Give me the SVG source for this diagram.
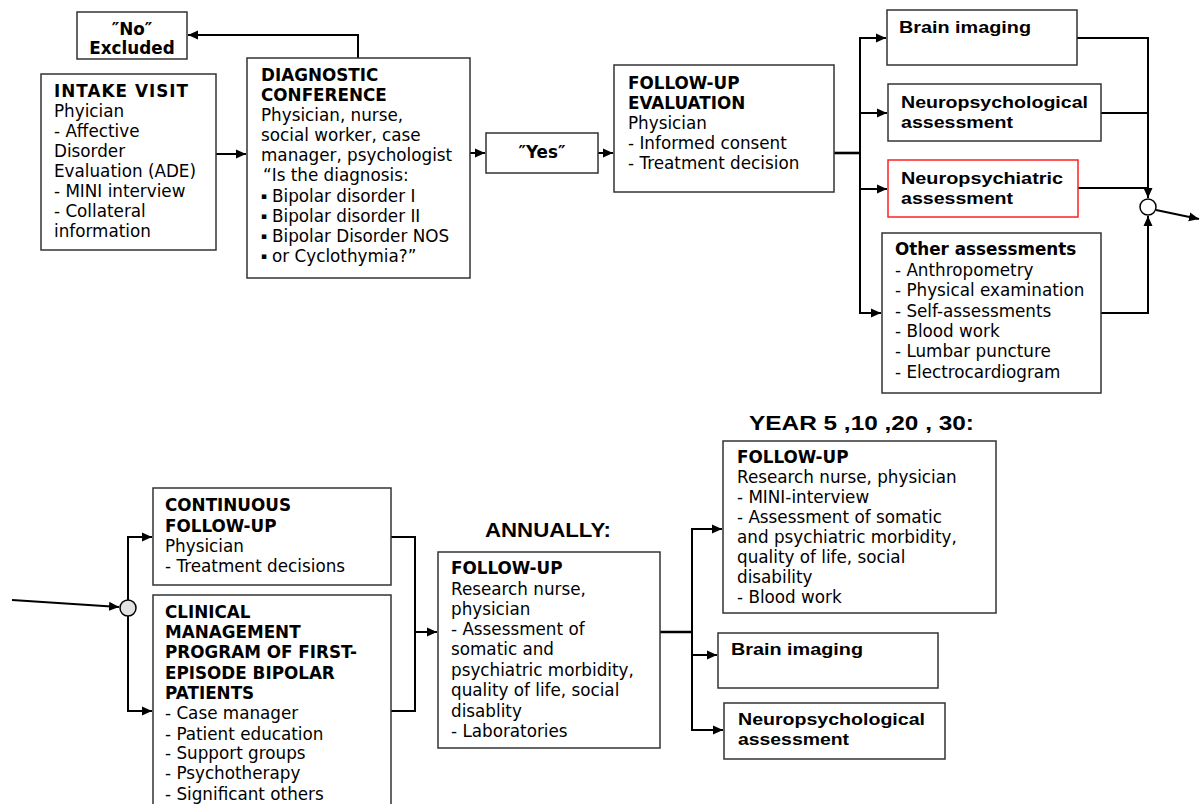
<svg xmlns="http://www.w3.org/2000/svg" width="1200" height="804" viewBox="0 0 1200 804">
  <style>
    .box { fill: #ffffff; stroke: #333333; stroke-width: 1.5; }
    .red { stroke: #ff2020; }
    .wire { fill: none; stroke: #000000; stroke-width: 2; }
    .thick { stroke-width: 2.6; }
    .hub { stroke: #000000; stroke-width: 1.5; }
    .t { font-family: "DejaVu Sans", Verdana, sans-serif; font-size: 16.8px; fill: #000000; }
    .b { font-weight: bold; }
    .dot { font-size: 9px; }
    .a { font-family: "Liberation Sans", Arial, sans-serif; font-weight: bold; font-size: 17px; fill: #000000; }
    .h { font-family: "Liberation Sans", Arial, sans-serif; font-weight: bold; font-size: 20px; fill: #000000; }
  </style>
  <defs>
    <marker id="arrow" markerUnits="userSpaceOnUse" markerWidth="11" markerHeight="10" refX="10" refY="5" orient="auto">
      <path d="M0,0.5 L10,5 L0,9.5 z" fill="#000000"/>
    </marker>
  </defs>

  <rect width="1200" height="804" fill="#ffffff"/>

  <!-- connectors -->
  <g id="connectors">
    <line class="wire" x1="216" y1="154" x2="246" y2="154" marker-end="url(#arrow)"/>
    <polyline class="wire" points="358,58 358,35 188,35" marker-end="url(#arrow)"/>
    <line class="wire" x1="470" y1="153" x2="485" y2="153" marker-end="url(#arrow)"/>
    <line class="wire" x1="598" y1="153" x2="613" y2="153" marker-end="url(#arrow)"/>
    <line class="wire thick" x1="834" y1="153" x2="861" y2="153"/>
    <line class="wire" x1="860" y1="37" x2="860" y2="314"/>
    <line class="wire" x1="860" y1="38" x2="886" y2="38" marker-end="url(#arrow)"/>
    <line class="wire" x1="860" y1="113" x2="887" y2="113" marker-end="url(#arrow)"/>
    <line class="wire" x1="860" y1="189" x2="887" y2="189" marker-end="url(#arrow)"/>
    <line class="wire" x1="860" y1="313" x2="881" y2="313" marker-end="url(#arrow)"/>
    <polyline class="wire" points="1077,38 1148,38 1148,198" marker-end="url(#arrow)"/>
    <line class="wire" x1="1101" y1="113" x2="1148" y2="113"/>
    <line class="wire" x1="1078" y1="188" x2="1148" y2="188"/>
    <polyline class="wire" points="1101,313 1148,313 1148,216" marker-end="url(#arrow)"/>
    <line class="wire" x1="1156" y1="210" x2="1199" y2="219" marker-end="url(#arrow)"/>

    <line class="wire" x1="12" y1="600" x2="119" y2="607" marker-end="url(#arrow)"/>
    <polyline class="wire" points="128,600 128,537 152,537" marker-end="url(#arrow)"/>
    <polyline class="wire" points="128,616 128,711 152,711" marker-end="url(#arrow)"/>
    <polyline class="wire" points="391,537 415,537 415,711 391,711"/>
    <line class="wire" x1="415" y1="632" x2="437" y2="632" marker-end="url(#arrow)"/>
    <line class="wire thick" x1="660" y1="632" x2="693" y2="632"/>
    <line class="wire" x1="692" y1="528" x2="692" y2="731"/>
    <line class="wire" x1="692" y1="529" x2="722" y2="529" marker-end="url(#arrow)"/>
    <line class="wire" x1="692" y1="655" x2="717" y2="655" marker-end="url(#arrow)"/>
    <line class="wire" x1="692" y1="730" x2="723" y2="730" marker-end="url(#arrow)"/>
  </g>

  <!-- junction points -->
  <circle id="merge-top" class="hub" cx="1148" cy="207" r="8" fill="#ffffff"/>
  <circle id="split-bottom" class="hub" cx="128" cy="608" r="8" fill="#e2e2e2"/>

  <!-- top row -->
  <g id="excluded">
    <rect class="box" x="77" y="12" width="110" height="47"/>
    <text class="t b" x="132" y="35" text-anchor="middle">″No″</text>
    <text class="t b" x="132" y="54" text-anchor="middle">Excluded</text>
  </g>

  <g id="intake">
    <rect class="box" x="41" y="74" width="175" height="176"/>
    <text class="t">
      <tspan class="b" x="54" y="97" textLength="134">INTAKE VISIT</tspan>
      <tspan x="54" y="117">Phyician</tspan>
      <tspan x="54" y="137">- Affective</tspan>
      <tspan x="54" y="157">Disorder</tspan>
      <tspan x="54" y="177">Evaluation (ADE)</tspan>
      <tspan x="54" y="197">- MINI interview</tspan>
      <tspan x="54" y="217">- Collateral</tspan>
      <tspan x="54" y="237">information</tspan>
    </text>
  </g>

  <g id="diagnostic">
    <rect class="box" x="247" y="58" width="223" height="220"/>
    <text class="t">
      <tspan class="b" x="261" y="81">DIAGNOSTIC</tspan>
      <tspan class="b" x="261" y="101">CONFERENCE</tspan>
      <tspan x="261" y="121">Physician, nurse,</tspan>
      <tspan x="261" y="141">social worker, case</tspan>
      <tspan x="261" y="161">manager, psychologist</tspan>
      <tspan x="263" y="181">“Is the diagnosis:</tspan>
      <tspan class="dot" x="261" y="199">▪</tspan><tspan x="272" y="202">Bipolar disorder I</tspan>
      <tspan class="dot" x="261" y="219">▪</tspan><tspan x="272" y="222">Bipolar disorder II</tspan>
      <tspan class="dot" x="261" y="239">▪</tspan><tspan x="272" y="242">Bipolar Disorder NOS</tspan>
      <tspan class="dot" x="261" y="259">▪</tspan><tspan x="272" y="262">or Cyclothymia?”</tspan>
    </text>
  </g>

  <g id="yes">
    <rect class="box" x="486" y="133" width="112" height="40"/>
    <text class="t b" x="542" y="158" text-anchor="middle">″Yes″</text>
  </g>

  <g id="followup-evaluation">
    <rect class="box" x="614" y="65" width="220" height="127"/>
    <text class="t">
      <tspan class="b" x="628" y="89">FOLLOW-UP</tspan>
      <tspan class="b" x="628" y="109">EVALUATION</tspan>
      <tspan x="628" y="129">Physician</tspan>
      <tspan x="628" y="149">- Informed consent</tspan>
      <tspan x="628" y="169">- Treatment decision</tspan>
    </text>
  </g>

  <g id="brain-imaging-top">
    <rect class="box" x="887" y="10" width="190" height="55"/>
    <text class="a" x="899" y="33" textLength="132" lengthAdjust="spacingAndGlyphs">Brain imaging</text>
  </g>

  <g id="neuropsychological-top">
    <rect class="box" x="888" y="84" width="213" height="57"/>
    <text class="a" x="901" y="108" textLength="187" lengthAdjust="spacingAndGlyphs">Neuropsychological</text>
    <text class="a" x="901" y="128" textLength="112" lengthAdjust="spacingAndGlyphs">assessment</text>
  </g>

  <g id="neuropsychiatric">
    <rect class="box red" x="888" y="160" width="190" height="57"/>
    <text class="a" x="901" y="184" textLength="162" lengthAdjust="spacingAndGlyphs">Neuropsychiatric</text>
    <text class="a" x="901" y="204" textLength="112" lengthAdjust="spacingAndGlyphs">assessment</text>
  </g>

  <g id="other-assessments">
    <rect class="box" x="882" y="233" width="219" height="160"/>
    <text class="t">
      <tspan class="b" x="895" y="255">Other assessments</tspan>
      <tspan x="895" y="276">- Anthropometry</tspan>
      <tspan x="895" y="296">- Physical examination</tspan>
      <tspan x="895" y="317">- Self-assessments</tspan>
      <tspan x="895" y="337">- Blood work</tspan>
      <tspan x="895" y="357">- Lumbar puncture</tspan>
      <tspan x="895" y="378">- Electrocardiogram</tspan>
    </text>
  </g>

  <!-- bottom row -->
  <g id="continuous-followup">
    <rect class="box" x="153" y="488" width="238" height="97"/>
    <text class="t">
      <tspan class="b" x="165" y="511">CONTINUOUS</tspan>
      <tspan class="b" x="165" y="532">FOLLOW-UP</tspan>
      <tspan x="165" y="552">Physician</tspan>
      <tspan x="165" y="572">- Treatment decisions</tspan>
    </text>
  </g>

  <g id="clinical-management">
    <rect class="box" x="153" y="595" width="238" height="220"/>
    <text class="t">
      <tspan class="b" x="165" y="618">CLINICAL</tspan>
      <tspan class="b" x="165" y="638">MANAGEMENT</tspan>
      <tspan class="b" x="165" y="658">PROGRAM OF FIRST-</tspan>
      <tspan class="b" x="165" y="679">EPISODE BIPOLAR</tspan>
      <tspan class="b" x="165" y="699">PATIENTS</tspan>
      <tspan x="165" y="719">- Case manager</tspan>
      <tspan x="165" y="740">- Patient education</tspan>
      <tspan x="165" y="759">- Support groups</tspan>
      <tspan x="165" y="779">- Psychotherapy</tspan>
      <tspan x="165" y="800">- Significant others</tspan>
    </text>
  </g>

  <text id="annually-label" class="h" x="485" y="537" textLength="126" lengthAdjust="spacingAndGlyphs">ANNUALLY:</text>

  <g id="annual-followup">
    <rect class="box" x="438" y="552" width="222" height="196"/>
    <text class="t">
      <tspan class="b" x="451" y="574">FOLLOW-UP</tspan>
      <tspan x="451" y="595">Research nurse,</tspan>
      <tspan x="451" y="615">physician</tspan>
      <tspan x="451" y="635">- Assessment of</tspan>
      <tspan x="451" y="655">somatic and</tspan>
      <tspan x="451" y="676">psychiatric morbidity,</tspan>
      <tspan x="451" y="696">quality of life, social</tspan>
      <tspan x="451" y="717">disablity</tspan>
      <tspan x="451" y="737">- Laboratories</tspan>
    </text>
  </g>

  <text id="year-label" class="h" x="749" y="430" textLength="225" lengthAdjust="spacingAndGlyphs">YEAR 5 ,10 ,20 , 30:</text>

  <g id="year-followup">
    <rect class="box" x="723" y="441" width="273" height="172"/>
    <text class="t">
      <tspan class="b" x="737" y="463">FOLLOW-UP</tspan>
      <tspan x="737" y="483">Research nurse, physician</tspan>
      <tspan x="737" y="503">- MINI-interview</tspan>
      <tspan x="737" y="523">- Assessment of somatic</tspan>
      <tspan x="737" y="543">and psychiatric morbidity,</tspan>
      <tspan x="737" y="563">quality of life, social</tspan>
      <tspan x="737" y="583">disability</tspan>
      <tspan x="737" y="603">- Blood work</tspan>
    </text>
  </g>

  <g id="brain-imaging-bottom">
    <rect class="box" x="718" y="633" width="220" height="55"/>
    <text class="a" x="731" y="655" textLength="132" lengthAdjust="spacingAndGlyphs">Brain imaging</text>
  </g>

  <g id="neuropsychological-bottom">
    <rect class="box" x="724" y="703" width="221" height="56"/>
    <text class="a" x="738" y="725" textLength="187" lengthAdjust="spacingAndGlyphs">Neuropsychological</text>
    <text class="a" x="738" y="745" textLength="111" lengthAdjust="spacingAndGlyphs">assessment</text>
  </g>
</svg>
